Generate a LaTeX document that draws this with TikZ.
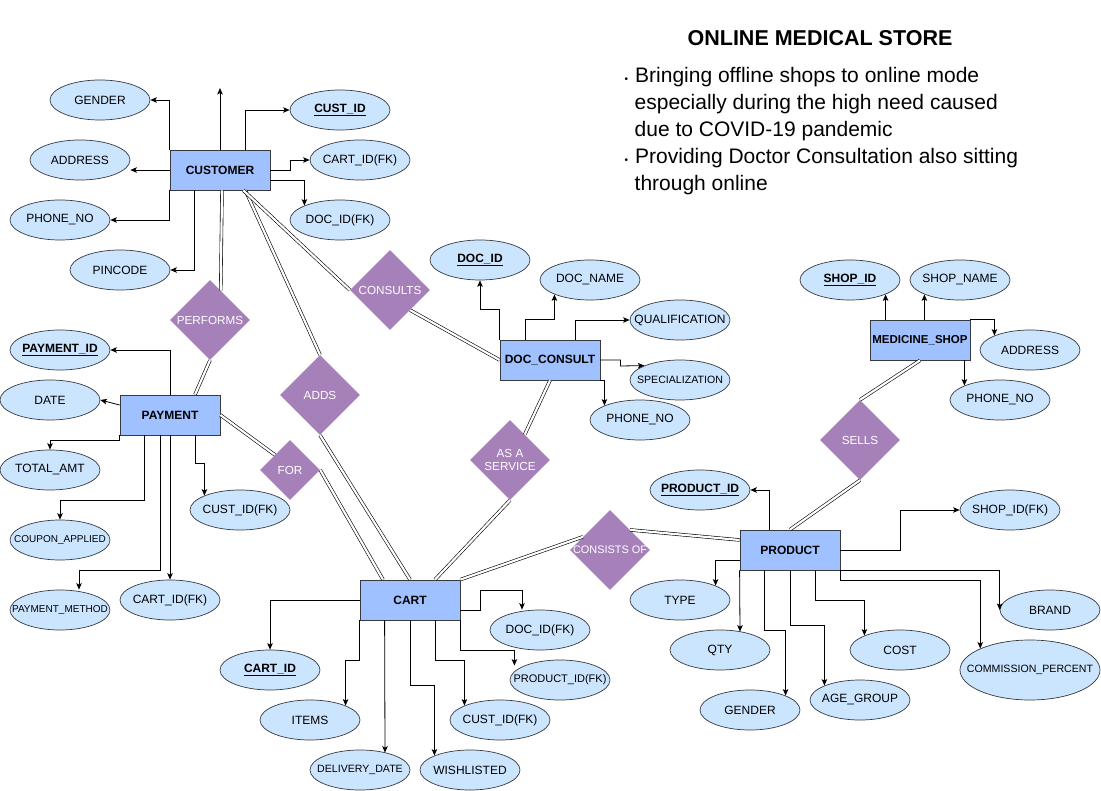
\documentclass[tikz,border=0pt]{standalone}
\usepackage{fontspec}
\setmainfont{Liberation Sans}
\definecolor{entblue}{HTML}{A0C1FF}
\definecolor{attblue}{HTML}{CCE5FF}
\definecolor{relpurple}{HTML}{A680B8}
\definecolor{edgegray}{HTML}{36393D}
\usetikzlibrary{calc, shapes.geometric, arrows.meta}

\begin{document}
\begin{tikzpicture}[x=1pt, y=-1pt,
  squeeze/.style={execute at begin node={\hbox to 0pt\bgroup\hss},
                  execute at end node={\hss\egroup}},
  entity/.style={draw=edgegray, fill=entblue, line width=0.8pt,
                 minimum width=100pt, minimum height=40pt, inner sep=0pt,
                 font=\bfseries\fontsize{12}{14}\selectfont},
  attr/.style={ellipse, squeeze, draw=edgegray, fill=attblue, line width=0.7pt,
               minimum width=100pt, minimum height=40pt, inner sep=0pt,
               font=\fontsize{12}{14}\selectfont},
  smallattr/.style={attr, font=\fontsize{10.6}{12}\selectfont},
  tinyattr/.style={attr, font=\fontsize{10}{12}\selectfont},
  rel/.style={diamond, fill=relpurple, minimum width=80pt, minimum height=80pt,
              inner sep=0pt, text=white, font=\fontsize{11.7}{13.5}\selectfont},
  link/.style={-{Stealth[length=6.5pt, width=5.5pt, inset=1.5pt]}, line width=0.8pt},
  dbl/.style={double=white, double distance=2.2pt, line width=0.6pt},
]
\useasboundingbox[fill=white] (0,0) rectangle (1101,791);

% title and notes
\node[font=\bfseries\fontsize{21.5}{26}\selectfont] (title) at (820,38) {ONLINE MEDICAL STORE};
\node[anchor=north west, inner sep=0pt, align=left, font=\fontsize{21}{27}\selectfont] (notes) at (621,67.5) {
  \makebox[14pt][l]{\hspace*{3.5pt}\raisebox{0pt}{\fontsize{10}{10}\selectfont •}}Bringing offline shops to online mode\\
  \hspace*{13.5pt}especially during the high need caused\\
  \hspace*{13.5pt}due to COVID-19 pandemic\\
  \makebox[14pt][l]{\hspace*{3.5pt}\raisebox{0pt}{\fontsize{10}{10}\selectfont •}}Providing Doctor Consultation also sitting\\
  \hspace*{13.5pt}through online};

% entities
\node[entity] (cust) at (220,170) {CUSTOMER};
\node[entity] (pay) at (170,415) {PAYMENT};
\node[entity] (cart) at (410,600) {CART};
\node[entity] (doc) at (550,360) {DOC\_CONSULT};
\node[entity] (prod) at (790,550) {PRODUCT};
\node[entity, font=\bfseries\fontsize{11.5}{14}\selectfont] (shop) at (920,340) {MEDICINE\_SHOP};

% relationships
\node[rel] (performs) at (210,320) {PERFORMS};
\node[rel] (adds) at (320,395) {ADDS};
\node[rel] (consults) at (390,290) {CONSULTS};
\node[rel, minimum width=60pt, minimum height=60pt] (for) at (290,470) {FOR};
\node[rel, align=center] (service) at (510,460) {AS A\\SERVICE};
\node[rel, squeeze, font=\fontsize{10.9}{12}\selectfont] (consists) at (610,550) {CONSISTS OF};
\node[rel] (sells) at (860,440) {SELLS};

% customer attributes
\node[attr] (cgender) at (100,100) {GENDER};
\node[attr] (caddr) at (80,160) {ADDRESS};
\node[attr] (cphone) at (60,220) {PHONE\_NO};
\node[attr] (cpin) at (120,270) {PINCODE};
\node[attr] (custid) at (340,110) {\underline{\textbf{CUST\_ID}}};
\node[attr] (ccartfk) at (360,160) {CART\_ID(FK)};
\node[attr] (cdocfk) at (340,220) {DOC\_ID(FK)};
\coordinate (custtop) at (220,88);

% payment attributes
\node[attr] (payid) at (60,350) {\underline{\textbf{PAYMENT\_ID}}};
\node[attr] (pdate) at (50,400) {DATE};
\node[attr] (ptotal) at (50,470) {TOTAL\_AMT};
\node[tinyattr] (pcoupon) at (60,540) {COUPON\_APPLIED};
\node[tinyattr] (pmethod) at (60,610) {PAYMENT\_METHOD};
\node[attr] (pcartfk) at (170,600) {CART\_ID(FK)};
\node[attr] (pcustfk) at (240,510) {CUST\_ID(FK)};

% cart attributes
\node[attr] (cartid) at (270,670) {\underline{\textbf{CART\_ID}}};
\node[attr] (kitems) at (310,720) {ITEMS};
\node[smallattr] (kdeliv) at (360,770) {DELIVERY\_DATE};
\node[attr] (kwish) at (470,770) {WISHLISTED};
\node[attr] (kcustfk) at (500,720) {CUST\_ID(FK)};
\node[attr, font=\fontsize{11}{13}\selectfont] (kprodfk) at (560,680) {PRODUCT\_ID(FK)};
\node[attr] (kdocfk) at (540,630) {DOC\_ID(FK)};

% doc_consult attributes
\node[attr] (docid) at (480,260) {\underline{\textbf{DOC\_ID}}};
\node[attr] (dname) at (590,280) {DOC\_NAME};
\node[attr] (dqual) at (680,320) {QUALIFICATION};
\node[smallattr] (dspec) at (680,380) {SPECIALIZATION};
\node[attr] (dphone) at (640,420) {PHONE\_NO};

% product attributes
\node[attr] (prodid) at (700,490) {\underline{\textbf{PRODUCT\_ID}}};
\node[attr] (rshopfk) at (1010,510) {SHOP\_ID(FK)};
\node[attr] (rtype) at (680,600) {TYPE};
\node[attr] (rqty) at (720,650) {QTY};
\node[attr] (rgender) at (750,710) {GENDER};
\node[attr] (rage) at (860,700) {AGE\_GROUP};
\node[attr] (rcost) at (900,650) {COST};
\node[attr] (rbrand) at (1050,610) {BRAND};
\node[smallattr, minimum width=140pt, minimum height=60pt] (rcomm) at (1030,670) {COMMISSION\_PERCENT};

% medicine_shop attributes
\node[attr] (shopid) at (850,280) {\underline{\textbf{SHOP\_ID}}};
\node[attr] (sname) at (960,280) {SHOP\_NAME};
\node[attr] (saddr) at (1030,350) {ADDRESS};
\node[attr] (sphone) at (1000,400) {PHONE\_NO};

% attribute links
\draw[link] (cust.north west) |- (cgender.east);
\draw[link] (cust.west) -- (caddr.east |- cust.west);
\draw[link] (cust.south west) |- (cphone.east);
\draw[link] ($(cust.south west)+(25,0)$) |- (cpin.east);
\draw[link] (cust.north) -- (custtop);
\draw[link] ($(cust.north)+(25,0)$) |- (custid.west);
\draw[link] (cust.east) -- ++(20,0) |- (ccartfk.west);
\draw[link] ($(cust.south east)+(0,-10)$) -| (cdocfk.north west);

\draw[link] (pay.north) |- (payid.east);
\draw[link] ($(pay.west)+(0,-10)$) -- (pdate.east);
\draw[link] (pay.south west) -- ++(0,5) -| (ptotal.north);
\draw[link] ($(pay.south west)+(25,0)$) -- ++(0,65) -| (pcoupon.north);
\draw[link] ($(pay.south)+(-10,0)$) -- ++(0,135) -| ($(pmethod.north)+(19,0)$);
\draw[link] (pay.south) -- (pcartfk.north);
\draw[link] ($(pay.south)+(25,0)$) -- ++(0,28) -| (pcustfk.north west);

\draw[link] (cart.west) -| (cartid.north);
\draw[link] (cart.south west) -- ++(0,40) -| (kitems.north east);
\draw[link] ($(cart.south west)+(25,0)$) -- ($(kdeliv.north)+(25,3)$);
\draw[link] (cart.south) -- ++(0,65) -| (kwish.north west);
\draw[link] ($(cart.south)+(25,0)$) -- ++(0,40) -| (kcustfk.north west);
\draw[link] (cart.south east) -- ++(0,30) -| ($(kprodfk.north west)+(-10,0)$);
\draw[link] ($(cart.east)+(0,10)$) -- ++(20,0) -- ++(0,-20) -| ($(kdocfk.north)+(-18,0)$);

\draw[link] (doc.north west) -- ++(0,-30) -| (docid.south);
\draw[link] ($(doc.north)+(-25,0)$) -- ++(0,-20) -| (dname.south west);
\draw[link] ($(doc.north)+(25,0)$) |- (dqual.west);
\draw[link] (doc.east) -- ++(20,0) -- ++(0,6) -- (dspec.north west);
\draw[link] (doc.south east) -| (dphone.north west);

\draw[link] ($(prod.north west)+(30,0)$) |- (prodid.east);
\draw[link] (prod.east) -- ++(60,0) |- (rshopfk.west);
\draw[link] ($(prod.west)+(0,10)$) -| (rtype.north east);
\draw[link] (prod.south west) -- ($(rqty.north)+(20,2)$);
\draw[link] ($(prod.south west)+(25,0)$) -- ++(0,60) -| (rgender.north east);
\draw[link] (prod.south) -- ++(0,55) -| (rage.north west);
\draw[link] ($(prod.south)+(25,0)$) -- ++(0,30) -| (rcost.north west);
\draw[link] (prod.south east) -| (rbrand.west);
\draw[link] (prod.south east) -- ++(0,10) -| (rcomm.north west);

\draw[link] (shopid.south east |- shop.north) -- (shopid.south east);
\draw[link] (sname.south west |- shop.north) -- (sname.south west);
\draw[link] (shop.north east) -| (saddr.north west);
\draw[link] (sphone.north west |- shop.south) -- (sphone.north west);

% relationship links
\draw[dbl] ($(cust.south)+(2,0)$) -- (performs.70);
\draw[dbl] (performs.south) -- ($(pay.north)+(25,0)$);
\draw[dbl] ($(cust.south east)+(-25,0)$) -- (adds.north);
\draw[dbl] (adds.south) -- (cart.north);
\draw[dbl] ($(cust.south east)+(-27,0)$) -- (consults.west);
\draw[dbl] (consults.south east) -- (doc.west);
\draw[dbl] (doc.south) -- (service.60);
\draw[dbl] (service.south) -- ($(cart.north)+(25,0)$);
\draw[dbl] (pay.east) -- (for.north west);
\draw[dbl] (for.east) -- ($(cart.north)+(-27,0)$);
\draw[dbl] (cart.north east) -- (consists.154);
\draw[dbl] (consists.north east) -- ($(prod.west)+(0,-10)$);
\draw[dbl] (prod.north) -- (sells.south);
\draw[dbl] (sells.north) -- (shop.south);
\end{tikzpicture}
\end{document}
